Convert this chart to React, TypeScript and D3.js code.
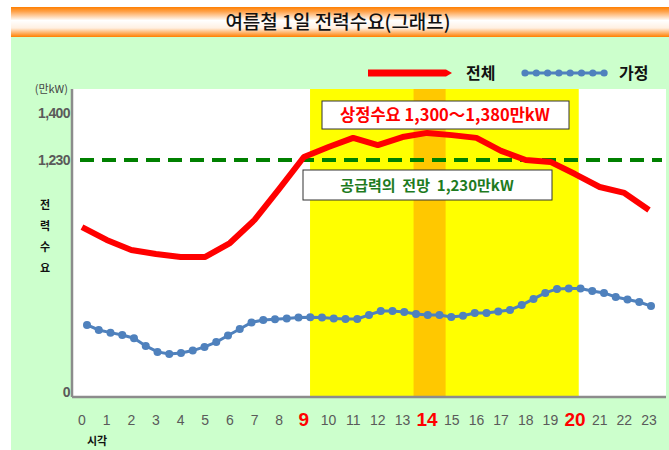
import React from "react";
import * as d3 from "d3";

// 시각 (hour categories)
const hours = [0, 1, 2, 3, 4, 5, 6, 7, 8, 9, 10, 11, 12, 13, 14, 15, 16, 17, 18, 19, 20, 21, 22, 23];
// 전체 수요 (만kW), hourly
const totalDemand = [882, 815, 763, 742, 727, 727, 799, 919, 1080, 1241, 1277, 1310, 1284, 1313, 1328, 1320, 1310, 1263, 1230, 1220, 1157, 1090, 1059, 971];
// 가정 수요 (만kW), every 30 minutes
const householdDemand = [
  374, 348, 334, 322, 305, 265, 234, 223, 228, 241, 260, 285, 319, 353, 387, 400, 403,
  407, 412, 414, 412, 408, 405, 405, 426, 446, 446, 441, 431, 426, 426, 415, 422,
  436, 436, 444, 452, 477, 509, 540, 561, 563, 563, 550, 540, 519, 506, 493, 472,
];
const yTicks = [0, 1230, 1400];
const yTickLabels = ["0", "1,230", "1,400"];
const highlightHours = [9, 14, 20];
const supplyForecast = 1230;
const peakBand = [9.25, 20.15];
const hotBand = [13.45, 14.75];

const KR = "'Noto Sans CJK KR', sans-serif";
const NUM = "'Liberation Sans', Arial, sans-serif";

const App = () => {
  const left = 72;
  const right = 666;
  const top = 89;
  const bottom = 397;

  const x = d3.scaleLinear().domain([0, 23]).range([82, 649]);
  const xHouse = d3.scaleLinear().domain([0, householdDemand.length - 1]).range([87, 651]);
  const y = d3.scaleLinear().domain([0, 1230, 1400]).range([bottom, 160, 113]);

  const totalLine = d3.line<number>()
    .x((d, i) => x(hours[i]))
    .y((d) => y(d))(totalDemand);
  const houseLine = d3.line<number>()
    .x((d, i) => xHouse(i))
    .y((d) => y(d))(householdDemand);

  const legendDots = d3.range(8).map((i) => 525 + i * 11.3);

  return (
    <svg width={669} height={450} style={{ position: "fixed", left: 0, top: 0, display: "block" }}>
      <defs>
        <linearGradient id="titleGrad" x1="0" y1="0" x2="0" y2="1">
          <stop offset="0" stopColor="#ff7f00" />
          <stop offset="0.15" stopColor="#ffa24a" />
          <stop offset="0.45" stopColor="#ffffff" />
          <stop offset="0.7" stopColor="#fff0e2" />
          <stop offset="1" stopColor="#ff7f00" />
        </linearGradient>
      </defs>
      <rect x={0} y={0} width={669} height={450} fill="#ffffff" />
      <rect x={11} y={37} width={658} height={413} fill="#ccffcc" />
      <rect x={11} y={7} width={658} height={30} fill="url(#titleGrad)" />
      <text x={338} y={29} textAnchor="middle" fontFamily={KR} fontSize={19} fontWeight={500} fill="#111">
        여름철 1일 전력수요(그래프)
      </text>

      {/* legend */}
      <line x1={368} x2={446} y1={73} y2={73} stroke="#ff0000" strokeWidth={7} />
      <polygon points="446,69.5 452,73 446,76.5" fill="#ff0000" />
      <text x={466} y={79} fontFamily={KR} fontSize={16} fontWeight={700} fill="#111">전체</text>
      <line x1={524} x2={606} y1={73} y2={73} stroke="#4f81bd" strokeWidth={3} />
      {legendDots.map((cx, i) => (
        <circle key={i} cx={cx} cy={73} r={3.6} fill="#4f81bd" />
      ))}
      <text x={619} y={79} fontFamily={KR} fontSize={16} fontWeight={700} fill="#111">가정</text>

      {/* plot area */}
      <rect x={left} y={top} width={right - left} height={bottom - top} fill="#ffffff" />
      <rect x={x(peakBand[0])} y={top} width={x(peakBand[1]) - x(peakBand[0])} height={bottom - top} fill="#ffff00" />
      <rect x={x(hotBand[0])} y={top} width={x(hotBand[1]) - x(hotBand[0])} height={bottom - top} fill="#ffc800" />

      <line x1={left} x2={left} y1={top} y2={bottom} stroke="#8c8c8c" strokeWidth={2.5} />
      <line x1={left} x2={right} y1={bottom} y2={bottom} stroke="#8c8c8c" strokeWidth={2.5} />

      <line x1={80} x2={662} y1={y(supplyForecast)} y2={y(supplyForecast)}
        stroke="#008000" strokeWidth={4} strokeDasharray="14 8" />

      <path d={totalLine || ""} fill="none" stroke="#ff0000" strokeWidth={6} strokeLinejoin="round" />

      <path d={houseLine || ""} fill="none" stroke="#4f81bd" strokeWidth={3} />
      {householdDemand.map((d, i) => (
        <circle key={i} cx={xHouse(i)} cy={y(d)} r={4} fill="#4f81bd" />
      ))}

      {/* annotations */}
      <rect x={322} y={101} width={247} height={28} fill="#ffffff" stroke="#333" strokeWidth={1} />
      <text x={445} y={121} textAnchor="middle" fontFamily={KR} fontSize={16.5} fontWeight={700} fill="#ff0000">
        상정수요 1,300～1,380만kW
      </text>
      <rect x={303} y={170} width={249} height={30} fill="#ffffff" stroke="#333" strokeWidth={1} />
      <text x={427} y={191} textAnchor="middle" fontFamily={KR} fontSize={15} fontWeight={700} fill="#1e7b1e"
        style={{ whiteSpace: "pre" }}>
        {"공급력의  전망  1,230만kW"}
      </text>

      {/* y axis */}
      <text x={68} y={93} textAnchor="end" fontFamily={KR} fontSize={11} fill="#444">(만kW)</text>
      {yTicks.map((t, i) => (
        <text key={t} x={70} y={y(t) + (t === 0 ? 0 : 5)} textAnchor="end" fontFamily={NUM} fontSize={14}
          fontWeight={700} fill="#5a5a5a" letterSpacing={-0.6}>
          {yTickLabels[i]}
        </text>
      ))}
      {["전", "력", "수", "요"].map((c, i) => (
        <text key={c} x={45} y={209 + i * 21} textAnchor="middle" fontFamily={KR} fontSize={11}
          fontWeight={700} fill="#111">
          {c}
        </text>
      ))}

      {/* x axis */}
      {hours.map((h) => {
        const hi = highlightHours.includes(h);
        return (
          <text key={h} x={x(h)} y={hi ? 426 : 425} textAnchor="middle" fontFamily={NUM}
            fontSize={hi ? 19 : 14} fontWeight={hi ? 700 : 400} fill={hi ? "#ff0000" : "#5a5a5a"}>
            {h}
          </text>
        );
      })}
      <text x={97} y={445} textAnchor="middle" fontFamily={KR} fontSize={11} fontWeight={700} fill="#111">시각</text>
    </svg>
  );
};

export default App;
